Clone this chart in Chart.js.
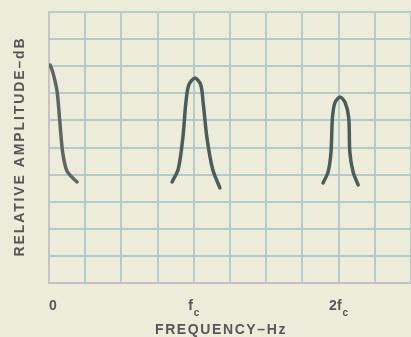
<!DOCTYPE html>
<html>
<head>
<meta charset="utf-8">
<script src="https://cdn.jsdelivr.net/npm/chart.js@4"></script>
<style>
 html,body{margin:0;padding:0;background:#edecdb;}
 #wrap{width:411px;height:337px;}
</style>
</head>
<body>
<div id="wrap"><canvas id="espectro"></canvas></div>
<script>
// curves in grid units (x: 0..10 divisions, y: 0..10 divisions)
const dcX = [0.03, 0.10, 0.22, 0.30, 0.38, 0.50, 0.77];
const dcY = [8.04, 7.80, 7.10, 5.94, 4.80, 4.12, 3.73];

const fcX = [3.40, 3.57, 3.70, 3.78, 3.86, 4.03, 4.19, 4.26, 4.36, 4.52, 4.72];
const fcY = [3.73, 4.20, 5.39, 6.64, 7.30, 7.56, 7.32, 6.64, 5.39, 4.20, 3.51];

const fc2X = [7.57, 7.71, 7.79, 7.83, 7.90, 8.04, 8.18, 8.28, 8.31, 8.40, 8.54];
const fc2Y = [3.69, 4.10, 4.83, 6.09, 6.66, 6.86, 6.66, 6.09, 4.83, 4.10, 3.62];

const tickVals = [0, 4, 8];
const tickMain = ['0', 'f', '2f'];
const tickSub = ['', 'c', 'c'];

const xTitle = 'FREQUENCY–Hz';
const yTitle = 'RELATIVE AMPLITUDE–dB';

function puntos(xs, ys){
  return xs.map((x,i)=>({x:x, y:ys[i]}));
}

const textColor = '#555856';

// axis titles and tick labels (tick labels need the subscript c)
const textos = {
  id: 'textos',
  afterDraw(chart){
    const ctx = chart.ctx;
    const xs = chart.scales.x;
    const area = chart.chartArea;
    ctx.save();
    ctx.fillStyle = textColor;
    ctx.textBaseline = 'alphabetic';
    ctx.textAlign = 'left';

    tickVals.forEach((v,i)=>{
      ctx.font = 'bold 14px "Liberation Sans", Arial, sans-serif';
      ctx.letterSpacing = '0px';
      const w1 = ctx.measureText(tickMain[i]).width;
      ctx.font = 'bold 10px "Liberation Sans", Arial, sans-serif';
      const w2 = tickSub[i] ? ctx.measureText(tickSub[i]).width + 1 : 0;
      let px = xs.getPixelForValue(v) - (w1 + w2) / 2;
      if (i === 0) px += 4;
      ctx.font = 'bold 14px "Liberation Sans", Arial, sans-serif';
      ctx.fillText(tickMain[i], px, area.bottom + 27);
      if (tickSub[i]) {
        ctx.font = 'bold 10px "Liberation Sans", Arial, sans-serif';
        ctx.fillText(tickSub[i], px + w1 + 1, area.bottom + 33);
      }
    });

    ctx.font = 'bold 14px "Liberation Sans", Arial, sans-serif';
    ctx.letterSpacing = '1.6px';
    ctx.textAlign = 'center';
    ctx.fillText(xTitle, (area.left + area.right) / 2 - 9, area.bottom + 51);

    ctx.translate(24, (area.top + area.bottom) / 2 - 1);
    ctx.rotate(-Math.PI / 2);
    ctx.letterSpacing = '1.9px';
    ctx.fillText(yTitle, 0, 0);
    ctx.restore();
  }
};

const estilo = {
  showLine: true,
  pointRadius: 0,
  borderWidth: 3.5,
  tension: 0.3,
  borderCapStyle: 'round',
  fill: false
};

new Chart(document.getElementById('espectro'), {
  type: 'scatter',
  data: {
    datasets: [
      Object.assign({data: puntos(dcX, dcY), borderColor: '#5f6564'}, estilo),
      Object.assign({data: puntos(fcX, fcY), borderColor: '#4b5d5a'}, estilo),
      Object.assign({data: puntos(fc2X, fc2Y), borderColor: '#4b5d5a'}, estilo)
    ]
  },
  options: {
    responsive: true,
    maintainAspectRatio: false,
    animation: false,
    layout: { padding: { left: 49, top: 12, right: 0, bottom: 54 } },
    scales: {
      x: {
        type: 'linear',
        min: 0, max: 10,
        ticks: { display: false, stepSize: 1 },
        grid: { color: '#b2ccc7', lineWidth: 2, drawTicks: false },
        border: { color: '#c3c1c3', width: 2 }
      },
      y: {
        type: 'linear',
        min: 0, max: 10,
        ticks: { display: false, stepSize: 1 },
        grid: { color: '#b2ccc7', lineWidth: 2, drawTicks: false },
        border: { color: '#c6c2c6', width: 2 }
      }
    },
    plugins: {
      legend: { display: false },
      tooltip: { enabled: false }
    }
  },
  plugins: [textos]
});
</script>
</body>
</html>
